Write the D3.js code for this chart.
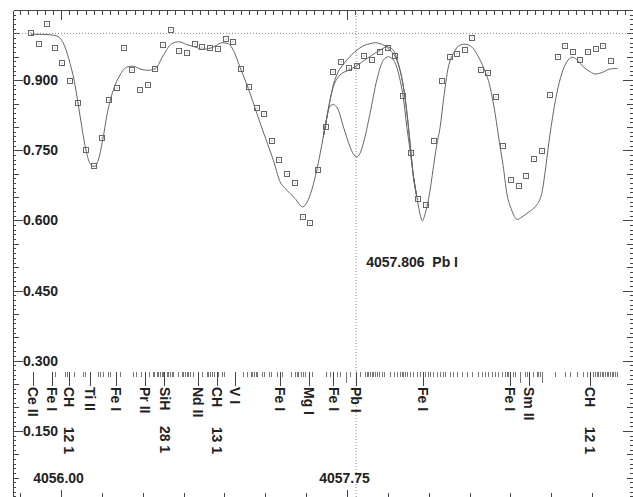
<!DOCTYPE html>
<html>
<head>
<meta charset="utf-8">
<script src="https://cdn.jsdelivr.net/npm/d3@7"></script>
<style>
  html, body { margin: 0; padding: 0; background: #fff; }
  svg { display: block; }
  text { font-family: "Liberation Sans", Arial, Helvetica, sans-serif; font-weight: bold; font-size: 14px; fill: #222; }
  .axis path, .axis line { stroke: #444; shape-rendering: crispEdges; }
  .curve { fill: none; stroke: #666; stroke-width: 1; }
  .obs { fill: none; stroke: #666; stroke-width: 1; shape-rendering: crispEdges; }
  .obs-dot { fill: #888; }
  .guide { stroke: #888; stroke-dasharray: 1,2; }
  .ll { stroke: #777; shape-rendering: crispEdges; }
  .ll-id { stroke: #444; shape-rendering: crispEdges; }
  .ll-label, .mark-label { white-space: pre; }
</style>
</head>
<body>
<div id="chart"></div>
<script>
/* global d3 */
(function () {
  'use strict'

  // Observed spectrum (normalised flux)
  var obsWave = [4055.816, 4055.867, 4055.912, 4055.965, 4056.008, 4056.057, 4056.104, 4056.153, 4056.202, 4056.249,
    4056.296, 4056.341, 4056.387, 4056.435, 4056.485, 4056.531, 4056.577, 4056.626, 4056.675, 4056.722,
    4056.771, 4056.818, 4056.863, 4056.910, 4056.959, 4057.008, 4057.054, 4057.102, 4057.149, 4057.198,
    4057.244, 4057.289, 4057.336, 4057.385, 4057.432, 4057.479, 4057.526, 4057.573, 4057.620, 4057.666,
    4057.714, 4057.763, 4057.810, 4057.856, 4057.905, 4057.950, 4057.999, 4058.046, 4058.093, 4058.140,
    4058.187, 4058.236, 4058.285, 4058.334, 4058.379, 4058.425, 4058.471, 4058.517, 4058.569, 4058.615,
    4058.660, 4058.707, 4058.754, 4058.803, 4058.848, 4058.897, 4058.944, 4058.991, 4059.040, 4059.086,
    4059.132, 4059.178, 4059.227, 4059.274, 4059.319, 4059.368]
  var obsFlux = [1.000, 0.978, 1.020, 0.968, 0.936, 0.898, 0.852, 0.750, 0.717, 0.777,
    0.857, 0.884, 0.968, 0.921, 0.879, 0.889, 0.923, 0.975, 1.008, 0.962,
    0.958, 0.977, 0.970, 0.969, 0.966, 0.987, 0.981, 0.923, 0.885, 0.840,
    0.827, 0.770, 0.730, 0.699, 0.681, 0.607, 0.595, 0.708, 0.800, 0.917,
    0.939, 0.925, 0.931, 0.951, 0.944, 0.961, 0.968, 0.951, 0.867, 0.745,
    0.645, 0.634, 0.770, 0.898, 0.949, 0.955, 0.964, 0.990, 0.921, 0.915,
    0.865, 0.760, 0.686, 0.674, 0.696, 0.731, 0.749, 0.869, 0.949, 0.974,
    0.961, 0.944, 0.961, 0.967, 0.973, 0.942]

  // Synthetic spectra: shared part left of Pb I
  var synthLeftWave = [4055.816, 4055.871, 4055.933, 4055.983, 4056.024, 4056.055, 4056.080, 4056.104, 4056.127, 4056.153,
    4056.177, 4056.202, 4056.228, 4056.255, 4056.283, 4056.320, 4056.361, 4056.402, 4056.442, 4056.483,
    4056.534, 4056.577, 4056.626, 4056.677, 4056.722, 4056.769, 4056.820, 4056.863, 4056.912, 4056.949,
    4056.984, 4057.024, 4057.054, 4057.095, 4057.146, 4057.198, 4057.248, 4057.299, 4057.340, 4057.381,
    4057.432, 4057.479, 4057.507, 4057.534, 4057.565, 4057.605, 4057.626]
  var synthLeftFlux = [0.998, 0.998, 0.997, 0.993, 0.971, 0.936, 0.900, 0.851, 0.800, 0.750,
    0.722, 0.715, 0.729, 0.772, 0.829, 0.879, 0.911, 0.928, 0.930, 0.924,
    0.921, 0.925, 0.953, 0.978, 0.982, 0.976, 0.971, 0.966, 0.968, 0.974,
    0.980, 0.978, 0.964, 0.928, 0.882, 0.829, 0.779, 0.729, 0.683, 0.665,
    0.647, 0.629, 0.640, 0.665, 0.708, 0.779, 0.819]

  // Around Pb I: three abundances
  var noPbWave = [4057.646, 4057.667, 4057.695, 4057.728, 4057.769, 4057.810, 4057.848, 4057.891, 4057.922, 4057.952,
    4057.983, 4058.013, 4058.054, 4058.095, 4058.116, 4058.136]
  var noPbFlux = [0.857, 0.891, 0.917, 0.934, 0.951, 0.964, 0.973, 0.978, 0.980, 0.978,
    0.973, 0.964, 0.943, 0.886, 0.832, 0.765]
  var lowPbWave = [4057.646, 4057.667, 4057.687, 4057.707, 4057.758, 4057.810, 4057.871, 4057.932, 4057.971, 4057.993,
    4058.013, 4058.034, 4058.054, 4058.075, 4058.095, 4058.116, 4058.136]
  var lowPbFlux = [0.857, 0.887, 0.902, 0.911, 0.921, 0.931, 0.946, 0.960, 0.968, 0.972,
    0.969, 0.964, 0.947, 0.921, 0.886, 0.832, 0.765]
  var highPbWave = [4057.636, 4057.651, 4057.667, 4057.683, 4057.697, 4057.728, 4057.769, 4057.787, 4057.810, 4057.830,
    4057.850, 4057.891, 4057.932, 4057.973, 4058.003, 4058.034, 4058.075, 4058.095, 4058.116, 4058.136]
  var highPbFlux = [0.836, 0.846, 0.848, 0.844, 0.836, 0.800, 0.757, 0.743, 0.736, 0.744,
    0.765, 0.829, 0.900, 0.943, 0.950, 0.943, 0.900, 0.862, 0.800, 0.750]

  // Shared part right of Pb I
  var synthRightWave = [4058.156, 4058.177, 4058.194, 4058.211, 4058.228, 4058.248, 4058.264, 4058.279, 4058.299, 4058.320,
    4058.340, 4058.370, 4058.401, 4058.442, 4058.472, 4058.513, 4058.554, 4058.584, 4058.625, 4058.656,
    4058.687, 4058.705, 4058.728, 4058.758, 4058.793, 4058.815, 4058.840, 4058.870, 4058.901, 4058.942,
    4058.962, 4058.993, 4059.034, 4059.064, 4059.095, 4059.126, 4059.156, 4059.197, 4059.238, 4059.268,
    4059.309, 4059.360, 4059.405]
  var synthRightFlux = [0.695, 0.651, 0.618, 0.599, 0.614, 0.644, 0.678, 0.715, 0.761, 0.800,
    0.857, 0.928, 0.957, 0.975, 0.977, 0.971, 0.950, 0.928, 0.886, 0.829,
    0.757, 0.718, 0.658, 0.622, 0.602, 0.606, 0.612, 0.620, 0.629, 0.658,
    0.703, 0.786, 0.872, 0.914, 0.939, 0.949, 0.944, 0.928, 0.918, 0.913,
    0.916, 0.924, 0.925]

  // Line list
  var lineWave = [4055.963, 4056.024, 4056.039, 4056.081, 4056.133, 4056.147, 4056.225, 4056.239, 4056.259, 4056.286,
    4056.300, 4056.361, 4056.442, 4056.459, 4056.490, 4056.540, 4056.561, 4056.571, 4056.586, 4056.595,
    4056.606, 4056.616, 4056.626, 4056.647, 4056.657, 4056.667, 4056.677, 4056.687, 4056.718, 4056.739,
    4056.748, 4056.759, 4056.769, 4056.779, 4056.789, 4056.810, 4056.865, 4056.892, 4056.901, 4056.912,
    4056.922, 4056.938, 4056.963, 4056.983, 4056.996, 4057.116, 4057.136, 4057.163, 4057.171, 4057.183,
    4057.192, 4057.200, 4057.228, 4057.244, 4057.273, 4057.285, 4057.320, 4057.351, 4057.408, 4057.432,
    4057.443, 4057.452, 4057.469, 4057.483, 4057.493, 4057.534, 4057.622, 4057.646, 4057.687, 4057.707,
    4057.769, 4057.830, 4057.860, 4057.871, 4057.881, 4057.891, 4057.901, 4057.911, 4057.922, 4057.932,
    4057.948, 4057.963, 4057.979, 4058.013, 4058.038, 4058.054, 4058.075, 4058.085, 4058.095, 4058.105,
    4058.119, 4058.136, 4058.156, 4058.177, 4058.197, 4058.228, 4058.248, 4058.258, 4058.275, 4058.299,
    4058.320, 4058.340, 4058.350, 4058.381, 4058.401, 4058.422, 4058.452, 4058.483, 4058.513, 4058.554,
    4058.575, 4058.595, 4058.615, 4058.636, 4058.656, 4058.676, 4058.697, 4058.717, 4058.728, 4058.738,
    4058.768, 4058.778, 4058.840, 4058.850, 4058.891, 4058.911, 4058.921, 4058.932, 4059.023, 4059.084,
    4059.115, 4059.156, 4059.197, 4059.217, 4059.254, 4059.268, 4059.278, 4059.288, 4059.299, 4059.309,
    4059.319, 4059.329, 4059.340, 4059.349, 4059.360, 4059.370, 4059.380, 4059.390, 4059.401]
  var strongWave = [4057.744, 4058.809, 4058.946]
  var idWave = [4055.830, 4055.943, 4056.051, 4056.177, 4056.337, 4056.514, 4056.633, 4056.837, 4056.953, 4057.065,
    4057.340, 4057.518, 4057.667, 4057.806, 4058.217, 4058.748, 4058.866, 4059.238]
  var idLabel = ['Ce II', 'Fe I', 'CH     12 1', 'Ti II', 'Fe I', 'Pr II', 'SiH    28 1', 'Nd II', 'CH     13 1', 'V I',
    'Fe I', 'Mg I', 'Fe I', 'Pb I', 'Fe I', 'Fe I', 'Sm II', 'CH     12 1']

  var markWave = 4057.806
  var markLabel = '4057.806  Pb I'

  // Ticks
  var yTicks = [0.150, 0.300, 0.450, 0.600, 0.750, 0.900]
  var xTicks = [4056.00, 4057.75]

  var dim = { w: 633, h: 497 }
  var frame = { left: 13, right: 632.5, top: 10, bottom: 498 }

  var x = d3.scaleLinear().domain([4055.706, 4059.497]).range([frame.left, frame.right])
  var y = d3.scaleLinear().domain([0.0075, 1.05]).range([497.5, frame.top])

  var svg = d3.select('#chart').append('svg')
    .attr('width', dim.w)
    .attr('height', dim.h)

  function zip (w, f) {
    return w.map(function (d, i) { return { w: d, f: f[i] } })
  }

  // tick value sets
  var yMinor = d3.range(1, 105).map(function (i) { return i / 100 })
  var yMedium = d3.range(1, 21).map(function (i) { return i * 0.05 })
  var xTop = d3.range(0, 76).map(function (i) { return 4055.75 + i * 0.05 })
  var xBottom = d3.range(0, 16).map(function (i) { return 4055.75 + i * 0.25 })

  function addAxis (transform, axis) {
    svg.append('g')
      .attr('class', 'axis')
      .attr('transform', transform)
      .call(axis)
  }

  // Left axis (ticks point inward, labels inside)
  addAxis('translate(' + frame.left + ',0)', d3.axisRight(y).tickValues(yMinor).tickSize(3).tickSizeOuter(0).tickFormat(''))
  addAxis('translate(' + frame.left + ',0)', d3.axisRight(y).tickValues(yMedium).tickSize(6).tickSizeOuter(0).tickFormat(''))
  addAxis('translate(' + frame.left + ',0)', d3.axisRight(y).tickValues(yTicks).tickSize(10).tickSizeOuter(0)
    .tickPadding(3).tickFormat(d3.format('.3f')))

  // Right axis
  addAxis('translate(' + frame.right + ',0)', d3.axisLeft(y).tickValues(yMinor).tickSize(3).tickSizeOuter(0).tickFormat(''))
  addAxis('translate(' + frame.right + ',0)', d3.axisLeft(y).tickValues(yMedium).tickSize(6).tickSizeOuter(0).tickFormat(''))
  addAxis('translate(' + frame.right + ',0)', d3.axisLeft(y).tickValues(yTicks).tickSize(10).tickSizeOuter(0).tickFormat(''))

  // Top axis
  addAxis('translate(0,' + frame.top + ')', d3.axisBottom(x).tickValues(xTop).tickSize(5).tickSizeOuter(0).tickFormat(''))
  addAxis('translate(0,' + frame.top + ')', d3.axisBottom(x).tickValues(xTicks).tickSize(10).tickSizeOuter(0).tickFormat(''))

  // Bottom axis
  addAxis('translate(0,' + frame.bottom + ')', d3.axisTop(x).tickValues(xBottom).tickSize(5).tickSizeOuter(0).tickFormat(''))
  addAxis('translate(0,' + frame.bottom + ')', d3.axisTop(x).tickValues(xTicks).tickSize(8).tickSizeOuter(0)
    .tickPadding(7).tickFormat(d3.format('.2f')))
  svg.selectAll('.axis text').attr('dx', -3)

  // Continuum and line-centre guides
  svg.append('line').attr('class', 'guide')
    .attr('x1', frame.left).attr('x2', frame.right)
    .attr('y1', y(1.0)).attr('y2', y(1.0))
  svg.append('line').attr('class', 'guide')
    .attr('x1', x(markWave)).attr('x2', x(markWave))
    .attr('y1', frame.top).attr('y2', frame.bottom)

  // Synthetic curves: shared wings drawn once, Pb I branches in between
  var line = d3.line()
    .x(function (d) { return x(d.w) })
    .y(function (d) { return y(d.f) })
    .curve(d3.curveMonotoneX)

  var left = zip(synthLeftWave, synthLeftFlux)
  var right = zip(synthRightWave, synthRightFlux)
  var joinL = left.slice(-2)
  var joinR = right.slice(0, 2)
  var segments = [
    left,
    joinL.concat(zip(noPbWave, noPbFlux), joinR),
    joinL.concat(zip(lowPbWave, lowPbFlux), joinR),
    joinL.concat(zip(highPbWave, highPbFlux), joinR),
    right
  ]
  svg.selectAll('.curve').data(segments).enter().append('path')
    .attr('class', 'curve')
    .attr('d', line)

  // Observed points
  var obs = zip(obsWave, obsFlux)
  svg.selectAll('.obs').data(obs).enter().append('rect')
    .attr('class', 'obs')
    .attr('x', function (d) { return Math.round(x(d.w)) - 2.5 })
    .attr('y', function (d) { return Math.round(y(d.f)) - 2.5 })
    .attr('width', 5)
    .attr('height', 5)
  svg.selectAll('.obs-dot').data(obs).enter().append('rect')
    .attr('class', 'obs-dot')
    .attr('x', function (d) { return Math.round(x(d.w)) - 0.5 })
    .attr('y', function (d) { return Math.round(y(d.f)) - 0.5 })
    .attr('width', 1)
    .attr('height', 1)

  // Line list strip
  var strip = { top: 371.5, short: 376.5, strong: 383, id: 385.5, text: 387 }
  svg.selectAll('.ll').data(lineWave.concat(strongWave)).enter().append('line')
    .attr('class', 'll')
    .attr('x1', function (d) { return Math.round(x(d)) + 0.5 })
    .attr('x2', function (d) { return Math.round(x(d)) + 0.5 })
    .attr('y1', strip.top)
    .attr('y2', function (d, i) { return i < lineWave.length ? strip.short : strip.strong })

  var ids = zip(idWave, idLabel)
  svg.selectAll('.ll-id').data(ids).enter().append('line')
    .attr('class', 'll-id')
    .attr('x1', function (d) { return Math.round(x(d.w)) + 0.5 })
    .attr('x2', function (d) { return Math.round(x(d.w)) + 0.5 })
    .attr('y1', strip.top)
    .attr('y2', strip.id)
  svg.selectAll('.ll-label').data(ids).enter().append('text')
    .attr('class', 'll-label')
    .attr('transform', function (d) { return 'translate(' + x(d.w) + ',' + strip.text + ') rotate(90)' })
    .attr('dy', '0.35em')
    .text(function (d) { return d.f })

  // Pb I marker label
  svg.append('text')
    .attr('class', 'mark-label')
    .attr('x', x(markWave) + 10)
    .attr('y', y(0.51))
    .attr('dy', '0.35em')
    .text(markLabel)
}())
</script>
</body>
</html>
